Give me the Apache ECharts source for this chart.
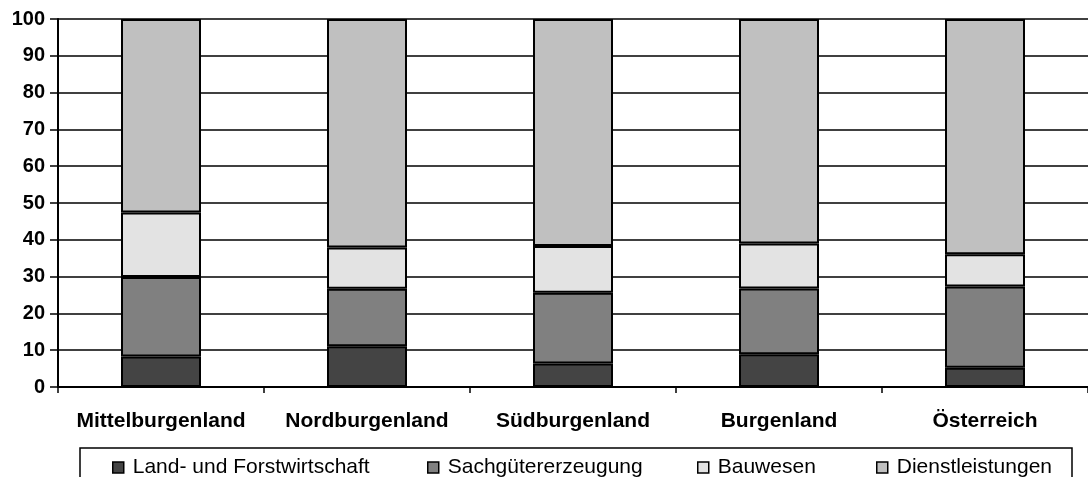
<!DOCTYPE html>
<html>
<head>
<meta charset="utf-8">
<script src="https://cdn.jsdelivr.net/npm/echarts@6/dist/echarts.min.js"></script>
<style>
  html, body { margin: 0; padding: 0; background: #fff; }
  #chart { width: 1088px; height: 477px; }
</style>
</head>
<body>
<div id="chart"></div>
<script>
// Regionen und Anteile der Sektoren (in %)
const categories = ['Mittelburgenland', 'Nordburgenland', 'Südburgenland', 'Burgenland', 'Österreich'];
const landForst = [8.3, 11.1, 6.4, 8.9, 5.2];
const sachgueter = [21.6, 15.6, 19.2, 17.9, 22.1];
const bauwesen = [17.5, 11.2, 12.7, 12.2, 8.8];
const dienstleistungen = [52.6, 62.1, 61.7, 61.0, 63.9];
const yTicks = { min: 0, max: 100, interval: 10 };

const seriesNames = ['Land- und Forstwirtschaft', 'Sachgütererzeugung', 'Bauwesen', 'Dienstleistungen'];
const seriesData = [landForst, sachgueter, bauwesen, dienstleistungen];
const seriesColors = ['#444444', '#808080', '#e3e3e3', '#c0c0c0'];
const legendLeft = [112, 427, 697, 876];

const FONT = '"Liberation Sans", Arial, sans-serif';

const chart = echarts.init(document.getElementById('chart'), null, { renderer: 'canvas' });

const option = {
  animation: false,
  backgroundColor: '#ffffff',
  grid: { left: 58, top: 19, width: 1044, height: 368, containLabel: false },
  xAxis: {
    type: 'category',
    data: categories,
    axisLine: { show: true, lineStyle: { color: '#000', width: 2 } },
    axisTick: { show: true, interval: 0, length: 6, alignWithLabel: false, lineStyle: { color: '#000', width: 1.5 } },
    axisLabel: { interval: 0, color: '#000', fontFamily: FONT, fontWeight: 'bold', fontSize: 21, margin: 24 },
    splitLine: { show: false }
  },
  yAxis: {
    type: 'value',
    min: yTicks.min,
    max: yTicks.max,
    interval: yTicks.interval,
    axisLine: { show: true, lineStyle: { color: '#000', width: 2 } },
    axisTick: { show: true, length: 8, lineStyle: { color: '#000', width: 1.5 } },
    axisLabel: { color: '#000', fontFamily: FONT, fontWeight: 'bold', fontSize: 20, margin: 13 },
    splitLine: { show: true, lineStyle: { color: '#000', width: 1.5 } }
  },
  legend: seriesNames.map((name, i) => ({
    data: [name],
    left: legendLeft[i],
    top: 457,
    padding: 0,
    itemWidth: 11,
    itemHeight: 11,
    icon: 'rect',
    selectedMode: false,
    itemStyle: { borderColor: '#000', borderWidth: 1.5 },
    textStyle: { color: '#000', fontFamily: FONT, fontSize: 21, padding: [0, 0, 0, 4] }
  })),
  graphic: [{
    type: 'rect',
    shape: { x: 80, y: 448, width: 992, height: 40 },
    style: { fill: 'none', stroke: '#000', lineWidth: 1.5 },
    z: 0
  }],
  series: seriesNames.map((name, i) => ({
    name: name,
    type: 'bar',
    stack: 'anteil',
    barWidth: 80,
    data: seriesData[i],
    itemStyle: { color: seriesColors[i], borderColor: '#000', borderWidth: 2 },
    emphasis: { disabled: true }
  }))
};

chart.setOption(option);
</script>
</body>
</html>
